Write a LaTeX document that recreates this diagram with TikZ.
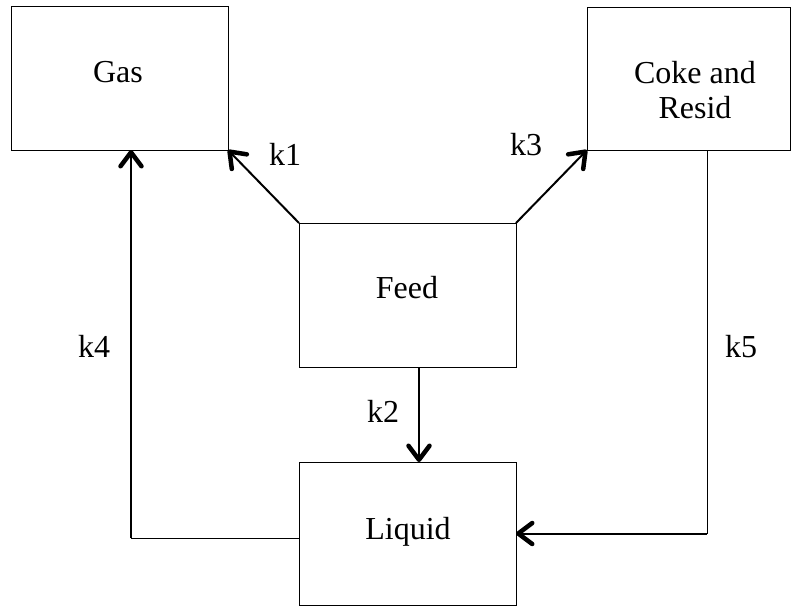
\documentclass[tikz,border=0pt]{standalone}
\usepackage{fontspec}
\setmainfont{Liberation Serif}
\usetikzlibrary{arrows.meta}

\tikzset{
  box/.style={draw=black, line width=1pt, minimum width=#1, inner sep=0pt, outer sep=0pt},
  box/.default=217pt,
  txt/.style={anchor=base, inner sep=0pt, font=\fontsize{32}{35}\selectfont},
  flow/.style={draw=black, line width=2pt,
    -{Straight Barb[length=14pt,width=21pt,line width=4.5pt,round]}},
  link/.style={draw=black, line width=0.8pt},
}

\begin{document}
\begin{tikzpicture}[x=1pt,y=-1pt]
  \useasboundingbox (0,0) rectangle (791,606);

  % boxes
  \node[box, minimum height=144pt] (gas)    at (119.5,78)   {};
  \node[box=203pt, minimum height=143pt] (coke) at (688.5,78.5) {};
  \node[box, minimum height=144pt] (feed)   at (407.5,295)  {};
  \node[box, minimum height=143pt] (liquid) at (407.5,533.5) {};

  % box texts
  \node[txt] (gasT)    at (118,82)  {Gas};
  \node[txt] (cokeT1)  at (695,83)  {Coke and};
  \node[txt] (cokeT2)  at (695,118) {Resid};
  \node[txt] (feedT)   at (407,298) {Feed};
  \node[txt] (liquidT) at (408,539) {Liquid};

  % rate constants
  \node[txt] (k1) at (285,165) {k1};
  \node[txt] (k2) at (383,422) {k2};
  \node[txt] (k3) at (526,155) {k3};
  \node[txt] (k4) at (94,357)  {k4};
  \node[txt] (k5) at (741,357) {k5};

  % direct reactions of the feed
  \draw[flow] (feed.north west) -- (gas.south east);
  \draw[flow] (feed.north east) -- (coke.south west);
  \draw[flow] ([xshift=11.5pt]feed.south) -- ([xshift=11.5pt]liquid.north);

  % liquid -> gas
  \coordinate (liqW) at ([yshift=-4.5pt]liquid.west);
  \coordinate (gasIn) at ([xshift=11.5pt]gas.south);
  \coordinate (c4) at (gasIn |- liqW);
  \draw[link] (liqW) -- (c4);
  \draw[flow] (c4) -- (gasIn);

  % coke and resid -> liquid
  \coordinate (cokeOut) at ([xshift=18.5pt]coke.south);
  \coordinate (c5) at (cokeOut |- liquid.east);
  \draw[link] (cokeOut) -- (c5);
  \draw[flow] (c5) -- (liquid.east);
\end{tikzpicture}
\end{document}
